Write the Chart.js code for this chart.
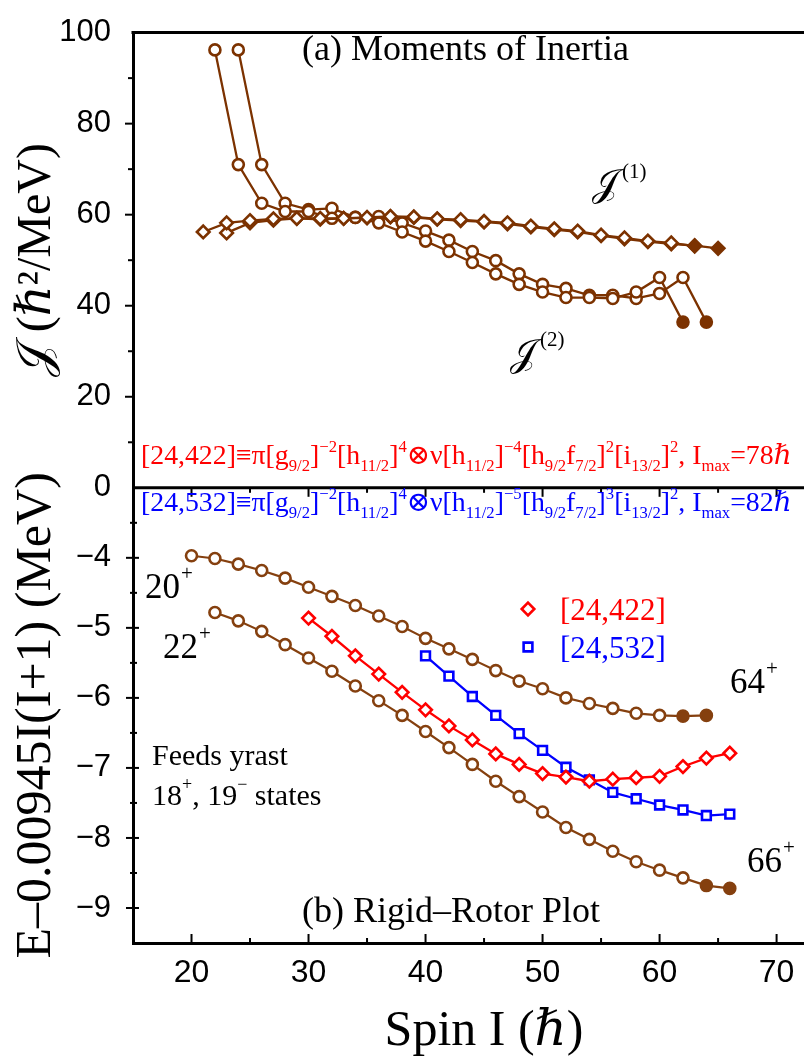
<!DOCTYPE html>
<html>
<head>
<meta charset="utf-8">
<script src="https://cdn.jsdelivr.net/npm/chart.js@4.4.1/dist/chart.umd.min.js"></script>
<style>
html,body{margin:0;padding:0;background:#fff;overflow:hidden;}
#wrap{width:804px;height:1062px;position:relative;overflow:hidden;}
canvas{display:block;}
</style>
</head>
<body>
<div id="wrap"><canvas id="c" width="844" height="1062"></canvas></div>
<script>
// ---------- DATA ----------
// Panel (a): moments of inertia (hbar^2/MeV)
const j2Band1Spins = [22,24,26,28,30,32,34,36,38,40,42,44,46,48,50,52,54,56,58,60,62];
const j2Band1Vals  = [96.2,71.0,62.5,60.7,60.7,59.2,59.4,58.2,56.2,54.2,51.9,49.5,47.0,44.7,43.0,41.8,41.8,41.6,43.0,46.2,36.4];
const j2Band1Filled = [62];

const j2Band2Spins = [24,26,28,30,32,34,36,38,40,42,44,46,48,50,52,54,56,58,60,62,64];
const j2Band2Vals  = [96.2,71.0,62.5,61.1,61.4,59.4,59.6,58.2,56.4,54.4,51.9,49.9,47.0,44.7,43.8,42.3,42.3,41.6,42.7,46.2,36.4];
const j2Band2Filled = [64];

const j1Band1Spins = [21,23,25,27,29,31,33,35,37,39,41,43,45,47,49,51,53,55,57,59,61,63];
const j1Band1Vals  = [56.2,58.2,58.7,59.1,59.2,59.2,59.2,59.4,59.6,59.5,59.1,58.9,58.5,58.2,57.5,56.9,56.4,55.5,54.9,54.2,53.8,53.1];
const j1Band1Filled = [63];

const j1Band2Spins = [23,25,27,29,31,33,35,37,39,41,43,45,47,49,51,53,55,57,59,61,63,65];
const j1Band2Vals  = [56.0,58.2,58.8,59.2,59.0,59.2,59.3,59.5,59.4,59.0,58.7,58.4,58.0,57.3,56.7,56.2,55.4,54.7,54.1,53.6,53.2,52.6];
const j1Band2Filled = [65];

// Panel (b): E - 0.00945 I(I+1) (MeV)
const band20Spins = [20,22,24,26,28,30,32,34,36,38,40,42,44,46,48,50,52,54,56,58,60,62,64];
const band20Vals  = [-3.97,-4.01,-4.09,-4.18,-4.29,-4.42,-4.55,-4.68,-4.83,-4.98,-5.15,-5.30,-5.45,-5.61,-5.76,-5.87,-6.00,-6.08,-6.15,-6.22,-6.25,-6.26,-6.25];
const band20Filled = [62,64];

const band22Spins = [22,24,26,28,30,32,34,36,38,40,42,44,46,48,50,52,54,56,58,60,62,64,66];
const band22Vals  = [-4.78,-4.90,-5.05,-5.24,-5.43,-5.62,-5.83,-6.04,-6.25,-6.48,-6.71,-6.95,-7.19,-7.41,-7.63,-7.85,-8.02,-8.19,-8.34,-8.46,-8.57,-8.68,-8.72];
const band22Filled = [64,66];

const calc422Spins = [30,32,34,36,38,40,42,44,46,48,50,52,54,56,58,60,62,64,66];
const calc422Vals  = [-4.86,-5.12,-5.40,-5.66,-5.92,-6.17,-6.40,-6.60,-6.80,-6.95,-7.08,-7.13,-7.19,-7.16,-7.14,-7.12,-6.98,-6.86,-6.79];

const calc532Spins = [40,42,44,46,48,50,52,54,56,58,60,62,64,66];
const calc532Vals  = [-5.40,-5.69,-5.98,-6.25,-6.51,-6.75,-6.99,-7.17,-7.35,-7.44,-7.53,-7.60,-7.68,-7.66];

// Axis ticks
const xTickValues = [20,30,40,50,60,70];
const yTopTickValues = [0,20,40,60,80,100];
const yBotTickValues = [-4,-5,-6,-7,-8,-9];

// ---------- STYLE ----------
const SERIF = '"Liberation Serif","DejaVu Serif","Times New Roman",serif';
const SANS = '"Liberation Sans",Arial,Helvetica,sans-serif';
const BROWN_A = '#7c3200';
const BROWN_B = '#85400f';
const RED = '#ff0000';
const BLUE = '#0000ff';
const HBAR = '\u210f';

function makeSet(spins, vals, filled, axis, color, style, radius, lineW) {
  return {
    data: spins.map((s, i) => ({x: s, y: vals[i]})),
    yAxisID: axis,
    borderColor: color,
    borderWidth: lineW,
    pointStyle: style,
    pointRadius: radius,
    pointHoverRadius: radius,
    pointBorderWidth: 2.6,
    pointBorderColor: color,
    pointBackgroundColor: spins.map(s => filled.includes(s) ? color : '#ffffff'),
    tension: 0,
    fill: false
  };
}

const datasets = [
  makeSet(j1Band1Spins, j1Band1Vals, j1Band1Filled, 'yTop', BROWN_A, 'rectRot', 6.3, 2.3),
  makeSet(j1Band2Spins, j1Band2Vals, j1Band2Filled, 'yTop', BROWN_A, 'rectRot', 6.3, 2.3),
  makeSet(j2Band1Spins, j2Band1Vals, j2Band1Filled, 'yTop', BROWN_A, 'circle', 5.5, 2.3),
  makeSet(j2Band2Spins, j2Band2Vals, j2Band2Filled, 'yTop', BROWN_A, 'circle', 5.5, 2.3),
  makeSet(band20Spins, band20Vals, band20Filled, 'yBot', BROWN_B, 'circle', 5.5, 2.2),
  makeSet(band22Spins, band22Vals, band22Filled, 'yBot', BROWN_B, 'circle', 5.5, 2.2),
  makeSet(calc422Spins, calc422Vals, [], 'yBot', RED, 'rectRot', 6.3, 2.3),
  makeSet(calc532Spins, calc532Vals, [], 'yBot', BLUE, 'rect', 6.2, 2.3)
];

// ---------- TEXT HELPERS ----------
function segWidth(ctx, segs, size) {
  let w = 0;
  for (const s of segs) {
    const sz = s.k ? size * 0.6 : size;
    ctx.font = sz + 'px ' + SERIF;
    w += ctx.measureText(s.t).width;
  }
  return w;
}
function drawSegs(ctx, segs, x, y, size, color) {
  ctx.fillStyle = color;
  ctx.textAlign = 'left';
  ctx.textBaseline = 'alphabetic';
  let cx = x;
  for (const s of segs) {
    const sz = s.k ? size * 0.6 : size;
    ctx.font = sz + 'px ' + SERIF;
    const dy = s.k === 'sub' ? size * 0.24 : (s.k === 'sup' ? -size * 0.43 : 0);
    ctx.fillText(s.t, cx, y + dy);
    cx += ctx.measureText(s.t).width;
  }
  return cx;
}
function fitSegs(ctx, segs, x, y, width, color) {
  const w0 = segWidth(ctx, segs, 20);
  const size = 20 * width / w0;
  drawSegs(ctx, segs, x, y, size, color);
}

const config422 = [
  {t:'[24,422]\u2261\u03c0[g'},{t:'9/2',k:'sub'},{t:']'},{t:'\u22122',k:'sup'},
  {t:'[h'},{t:'11/2',k:'sub'},{t:']'},{t:'4',k:'sup'},
  {t:'\u2297\u03bd[h'},{t:'11/2',k:'sub'},{t:']'},{t:'\u22124',k:'sup'},
  {t:'[h'},{t:'9/2',k:'sub'},{t:'f'},{t:'7/2',k:'sub'},{t:']'},{t:'2',k:'sup'},
  {t:'[i'},{t:'13/2',k:'sub'},{t:']'},{t:'2',k:'sup'},
  {t:', I'},{t:'max',k:'sub'},{t:'=78' + HBAR}
];
const config532 = [
  {t:'[24,532]\u2261\u03c0[g'},{t:'9/2',k:'sub'},{t:']'},{t:'\u22122',k:'sup'},
  {t:'[h'},{t:'11/2',k:'sub'},{t:']'},{t:'4',k:'sup'},
  {t:'\u2297\u03bd[h'},{t:'11/2',k:'sub'},{t:']'},{t:'\u22125',k:'sup'},
  {t:'[h'},{t:'9/2',k:'sub'},{t:'f'},{t:'7/2',k:'sub'},{t:']'},{t:'3',k:'sup'},
  {t:'[i'},{t:'13/2',k:'sub'},{t:']'},{t:'2',k:'sup'},
  {t:', I'},{t:'max',k:'sub'},{t:'=82' + HBAR}
];

function line(ctx, x1, y1, x2, y2) {
  ctx.beginPath(); ctx.moveTo(x1, y1); ctx.lineTo(x2, y2); ctx.stroke();
}
function marker(ctx, style, x, y, r, color) {
  ctx.save();
  ctx.strokeStyle = color; ctx.fillStyle = '#fff'; ctx.lineWidth = 2.6;
  ctx.beginPath();
  if (style === 'rectRot') {
    ctx.moveTo(x, y - r); ctx.lineTo(x + r, y); ctx.lineTo(x, y + r); ctx.lineTo(x - r, y); ctx.closePath();
  } else {
    const s = r * Math.SQRT1_2;
    ctx.rect(x - s, y - s, 2 * s, 2 * s);
  }
  ctx.fill(); ctx.stroke();
  ctx.restore();
}

// ---------- PLUGIN: frame, minor ticks, annotations ----------
const decoPlugin = {
  id: 'deco',
  afterDraw(chart) {
    const {ctx, chartArea: ca, scales} = chart;
    const sx = scales.x, yT = scales.yTop, yB = scales.yBot;
    const L = ca.left;
    ctx.save();
    ctx.strokeStyle = '#000';
    ctx.lineCap = 'butt';
    // frame top + panel divider
    ctx.lineWidth = 3;
    line(ctx, L - 1.5, ca.top, ca.right, ca.top);
    const ym = yT.getPixelForValue(0);
    line(ctx, L, ym, ca.right, ym);
    // x ticks (inward on bottom axis, downward from the divider)
    ctx.lineWidth = 2;
    for (let v = 15; v <= 75; v += 5) {
      const px = sx.getPixelForValue(v);
      const len = (v % 10 === 0) ? 9 : 5;
      line(ctx, px, ca.bottom, px, ca.bottom - len);
      line(ctx, px, ym, px, ym + len);
    }
    // y ticks, top panel (outward)
    for (let v = 10; v <= 90; v += 10) {
      const py = yT.getPixelForValue(v);
      const len = (v % 20 === 0) ? 8 : 5;
      line(ctx, L - len, py, L, py);
    }
    // y ticks, bottom panel
    for (let v = -3.5; v >= -9.0; v -= 0.5) {
      const py = yB.getPixelForValue(v);
      const major = Number.isInteger(v);
      if (major) line(ctx, L - 7, py, L + 6, py);
      else line(ctx, L - 3, py, L + 4, py);
    }
    ctx.restore();

    // ---- annotations ----
    ctx.save();
    ctx.textAlign = 'left';
    ctx.textBaseline = 'alphabetic';
    ctx.fillStyle = '#000';
    ctx.font = '36px ' + SERIF;
    ctx.fillText('(a) Moments of Inertia', 302, 60);
    ctx.fillText('(b) Rigid\u2013Rotor Plot', 302, 922);

    // J(1), J(2)
    ctx.font = '38px ' + SERIF;
    ctx.fillText('\ud835\udca5', 592, 196);
    ctx.font = '21px ' + SERIF;
    ctx.fillText('(1)', 622, 178);
    ctx.font = '38px ' + SERIF;
    ctx.fillText('\ud835\udca5', 510, 366);
    ctx.font = '21px ' + SERIF;
    ctx.fillText('(2)', 540, 346);

    // configuration labels
    fitSegs(ctx, config422, 141, 464, 651, RED);
    fitSegs(ctx, config532, 141, 511, 651, BLUE);

    // band labels
    const bl = (txt, x, y) => {
      ctx.fillStyle = '#000';
      ctx.font = '35px ' + SERIF;
      ctx.fillText(txt, x, y);
      const w = ctx.measureText(txt).width;
      ctx.font = '21px ' + SERIF;
      ctx.fillText('+', x + w + 1, y - 18);
    };
    bl('20', 145, 598);
    bl('22', 163, 658);
    bl('64', 730, 693);
    bl('66', 747, 872);

    // feeds text
    ctx.fillStyle = '#000';
    ctx.font = '30px ' + SERIF;
    ctx.fillText('Feeds yrast', 152, 765);
    let cx = 152;
    const put = (t, sz, dy) => { ctx.font = sz + 'px ' + SERIF; ctx.fillText(t, cx, 805 + dy); cx += ctx.measureText(t).width; };
    put('18', 30, 0); put('+', 18, -15); put(', 19', 30, 0); put('\u2212', 18, -15); put(' states', 30, 0);

    // legend
    marker(ctx, 'rectRot', 528, 609, 6.3, RED);
    marker(ctx, 'rect', 528, 647, 6.2, BLUE);
    ctx.font = '31px ' + SERIF;
    ctx.fillStyle = RED;
    ctx.fillText('[24,422]', 560, 620);
    ctx.fillStyle = BLUE;
    ctx.fillText('[24,532]', 560, 658);
    ctx.restore();
  }
};

// ---------- CHART ----------
const ctx = document.getElementById('c').getContext('2d');
new Chart(ctx, {
  type: 'line',
  data: {datasets},
  options: {
    responsive: false,
    animation: false,
    devicePixelRatio: 1,
    layout: {padding: {left: 0, right: 0, top: 18, bottom: 0}},
    plugins: {legend: {display: false}, tooltip: {enabled: false}},
    elements: {line: {tension: 0}},
    scales: {
      x: {
        type: 'linear', position: 'bottom', min: 15, max: 75,
        afterFit: s => { s.height = 119; },
        afterBuildTicks: s => { s.ticks = xTickValues.map(v => ({value: v})); },
        grid: {display: false},
        border: {display: true, width: 3, color: '#000'},
        ticks: {autoSkip: false, maxRotation: 0, padding: 3, color: '#000',
                font: {family: SANS, size: 32}, callback: v => String(v)},
        title: {display: true, text: 'Spin I (' + HBAR + ')', color: '#000',
                font: {family: SERIF, size: 50, lineHeight: 1}, padding: {top: 0, bottom: 5}}
      },
      yBot: {
        type: 'linear', position: 'left', stack: 'panels', stackWeight: 1, min: -9.5, max: -3,
        afterFit: s => { s.width = 133; },
        afterBuildTicks: s => { s.ticks = yBotTickValues.map(v => ({value: v})); },
        grid: {display: false},
        border: {display: true, width: 3, color: '#000'},
        ticks: {autoSkip: false, padding: 14, color: '#000',
                font: {family: SANS, size: 31}, callback: v => '\u2212' + Math.abs(v)},
        title: {display: true, text: 'E\u20130.00945I(I+1) (MeV)', color: '#000',
                font: {family: SERIF, size: 50, lineHeight: 1}, padding: {top: 12, bottom: 0}}
      },
      yTop: {
        type: 'linear', position: 'left', stack: 'panels', stackWeight: 1, min: 0, max: 100,
        afterFit: s => { s.width = 133; },
        afterBuildTicks: s => { s.ticks = yTopTickValues.map(v => ({value: v})); },
        grid: {display: false},
        border: {display: true, width: 3, color: '#000'},
        ticks: {autoSkip: false, padding: 14, color: '#000',
                font: {family: SANS, size: 31}, callback: v => String(v)},
        title: {display: true, text: '\ud835\udca5 (' + HBAR + '\u00b2/MeV)', color: '#000',
                font: {family: SERIF, size: 48, lineHeight: 1}, padding: {top: 13, bottom: 0}}
      }
    }
  },
  plugins: [decoPlugin]
});
</script>
</body>
</html>
